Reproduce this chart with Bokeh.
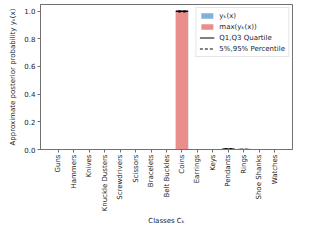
import math
from bokeh.plotting import figure
from bokeh.models import (Range1d, FixedTicker, Legend, LegendItem, Title,
                          ColumnDataSource, PrintfTickFormatter)
from bokeh.embed import file_html
from bokeh.resources import INLINE

classes = ["Guns", "Hammers", "Knives", "Knuckle Dusters", "Screwdrivers",
           "Scissors", "Bracelets", "Belt Buckles", "Coins", "Earrings",
           "Keys", "Pendants", "Rings", "Shoe Shanks", "Watches"]
yk_mean = [0.0, 0.0, 0.0, 0.0, 0.0, 0.0, 0.0, 0.0, 0.995, 0.0, 0.0, 0.003, 0.001, 0.0, 0.0]
yk_max = [0.0, 0.0, 0.0, 0.0, 0.0, 0.0, 0.0, 0.0, 1.0, 0.0, 0.0, 0.0, 0.0, 0.0, 0.0]
q1 = [0.0, 0.0, 0.0, 0.0, 0.0, 0.0, 0.0, 0.0, 0.997, 0.0, 0.0, 0.0, 0.0, 0.0, 0.0]
q3 = [0.0, 0.0, 0.0, 0.0, 0.0, 0.0, 0.0, 0.0, 1.0, 0.0, 0.0, 0.004, 0.001, 0.0, 0.0]
p5 = [0.0, 0.0, 0.0, 0.0, 0.0, 0.0, 0.0, 0.0, 0.993, 0.0, 0.0, 0.0, 0.0, 0.0, 0.0]
p95 = [0.0, 0.0, 0.0, 0.0, 0.0, 0.0, 0.0, 0.0, 1.0, 0.0, 0.0, 0.006, 0.002, 0.0, 0.0]
y_ticks = [0.0, 0.2, 0.4, 0.6, 0.8, 1.0]
x_label = "Classes Cₖ"
y_label = "Approximate posterior probability yₖ(x)"

FONT = "DejaVu Sans"
AX = "#707070"
TXT = "#222222"

xs = list(range(len(classes)))
src = ColumnDataSource(dict(
    x=xs, mean=yk_mean, mx=yk_max, q1=q1, q3=q3, p5=p5, p95=p95,
    x0=[i - 0.4 for i in xs], x1=[i + 0.4 for i in xs],
    xp0=[i - 0.25 for i in xs], xp1=[i + 0.25 for i in xs],
))

p = figure(width=304, height=224, output_backend="svg", toolbar_location=None,
           x_range=Range1d(-1.14, len(classes) - 1 + 1.14),
           y_range=Range1d(0, 1.047),
           min_border_left=40, min_border_right=12, min_border_top=4,
           min_border_bottom=60)
p.grid.visible = False
p.outline_line_color = AX
p.outline_line_width = 1

r_blue = p.vbar(x="x", top="mean", width=0.8, source=src,
                fill_color="#7eb0d9", line_color=None)
r_red = p.vbar(x="x", top="mx", width=0.8, source=src,
               fill_color="#e98e8b", line_color=None)
r_q = p.segment(x0="x0", x1="x1", y0="q1", y1="q1", source=src,
                line_color="black", line_width=1)
p.segment(x0="x0", x1="x1", y0="q3", y1="q3", source=src,
          line_color="black", line_width=1)
r_p = p.segment(x0="xp0", x1="xp1", y0="p5", y1="p5", source=src,
                line_color="black", line_width=1, line_dash="3 2")
p.segment(x0="xp0", x1="xp1", y0="p95", y1="p95", source=src,
          line_color="black", line_width=1, line_dash="3 2")

def style_axis(ax):
    ax.axis_line_color = AX
    ax.major_tick_line_color = AX
    ax.minor_tick_line_color = None
    ax.major_tick_out = 3
    ax.major_tick_in = 0
    ax.major_label_standoff = 2
    ax.major_label_text_font = FONT
    ax.major_label_text_font_size = "7px"
    ax.major_label_text_color = TXT
    ax.axis_label_text_font = FONT
    ax.axis_label_text_font_size = "7px"
    ax.axis_label_text_font_style = "normal"
    ax.axis_label_text_color = TXT

xa = p.xaxis[0]
style_axis(xa)
xa.ticker = FixedTicker(ticks=xs)
xa.major_label_overrides = {i: c for i, c in enumerate(classes)}
xa.major_label_orientation = math.pi / 2
xa.axis_label = None

ya = p.yaxis[0]
style_axis(ya)
ya.ticker = FixedTicker(ticks=y_ticks)
ya.formatter = PrintfTickFormatter(format="%.1f")
ya.axis_label = y_label
ya.axis_label_standoff = 4

p.add_layout(Title(text=x_label, align="center", text_font=FONT,
                   text_font_size="7px", text_font_style="normal",
                   text_color=TXT, standoff=0), "below")

legend = Legend(items=[
    LegendItem(label="yₖ(x)", renderers=[r_blue]),
    LegendItem(label="max(yₖ(x))", renderers=[r_red]),
    LegendItem(label="Q1,Q3 Quartile", renderers=[r_q]),
    LegendItem(label="5%,95% Percentile", renderers=[r_p]),
], location="top_right")
legend.label_text_font = FONT
legend.label_text_font_size = "7px"
legend.label_text_color = TXT
legend.label_height = 9
legend.glyph_height = 7
legend.glyph_width = 15
legend.spacing = 2
legend.padding = 3
legend.margin = 3
legend.label_standoff = 5
legend.border_line_color = "#cccccc"
legend.background_fill_alpha = 0.9
p.add_layout(legend)

open("out.html", "w").write(file_html(p, INLINE))
